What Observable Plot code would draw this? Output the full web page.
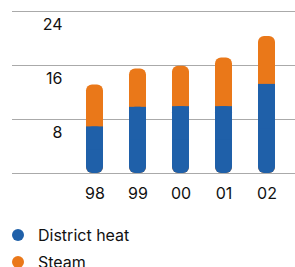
<!DOCTYPE html>
<html>
<head>
<meta charset="utf-8">
<script src="https://cdn.jsdelivr.net/npm/d3@7"></script>
<script src="https://cdn.jsdelivr.net/npm/@observablehq/plot@0.6"></script>
<style>
  html, body { margin: 0; padding: 0; background: #fff; }
  body { width: 295px; height: 267px; overflow: hidden; font-family: Inter, "Liberation Sans", Arial, sans-serif; }
  #legend { position: relative; margin-top: 16px; }
  .item { display: flex; align-items: center; height: 27px; font-size: 16px; color: #111; }
  .dot { width: 12px; height: 12px; border-radius: 50%; margin-left: 12px; margin-right: 14px; }
</style>
</head>
<body>
<div id="chart"></div>
<div id="legend"></div>
<script>
const years = ["98", "99", "00", "01", "02"];
const districtHeat = [6.9, 9.8, 9.9, 9.9, 13.2];
const steam = [6.2, 5.7, 6.0, 7.2, 7.1];
const yTicks = [8, 16, 24];
const seriesNames = ["District heat", "Steam"];
const colors = ["#1f60a9", "#ea7819"];

const rows = years.map((y, i) => ({
  year: y,
  district: districtHeat[i],
  total: districtHeat[i] + steam[i]
}));

const chart = Plot.plot({
  width: 295,
  height: 205,
  marginLeft: 73,
  marginRight: 7,
  marginTop: 11,
  marginBottom: 32,
  style: { fontFamily: "Inter, Liberation Sans, Arial, sans-serif", fontSize: "16px", color: "#111", background: "#fff" },
  x: { domain: years, paddingInner: 0.6, paddingOuter: 0.3, label: null },
  y: { domain: [0, 24], label: null, axis: null },
  marks: [
    Plot.ruleY([0, ...yTicks], { stroke: "#aaa", strokeWidth: 1, insetLeft: -61, insetRight: -7 }),
    Plot.text(yTicks, { y: d => d, text: d => String(d), frameAnchor: "left", textAnchor: "end", lineAnchor: "top", dx: -11, dy: 7, fontSize: 16, fill: "#111" }),
    Plot.barY(rows, { x: "year", y1: 0, y2: "total", fill: colors[1], rx: 6 }),
    Plot.barY(rows, { x: "year", y1: 0, y2: "district", fill: colors[0], rx: 6 }),
    Plot.barY(rows, { x: "year", y1: d => d.district / 2, y2: "district", fill: colors[0] }),
    Plot.axisX({ tickSize: 0, tickPadding: 14, fontSize: 16, label: null })
  ]
});
document.getElementById("chart").appendChild(chart);

const legend = document.getElementById("legend");
seriesNames.forEach((name, i) => {
  const item = document.createElement("div");
  item.className = "item";
  const dot = document.createElement("span");
  dot.className = "dot";
  dot.style.background = colors[i];
  const label = document.createElement("span");
  label.textContent = name;
  item.appendChild(dot);
  item.appendChild(label);
  legend.appendChild(item);
});
</script>
</body>
</html>
